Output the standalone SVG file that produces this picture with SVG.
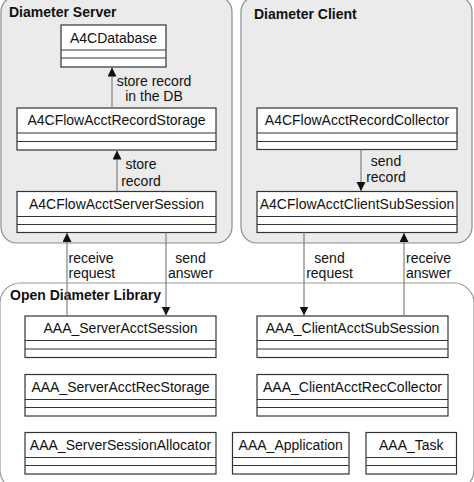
<svg xmlns="http://www.w3.org/2000/svg" width="474" height="482" viewBox="0 0 474 482">
<style>
.panel{fill:#ebebeb;stroke:#8c8c8c;stroke-width:1.2}
.lib{fill:#ffffff;stroke:#9a9a9a;stroke-width:1.2}
.box{fill:#ffffff;stroke:#333;stroke-width:1.2}
.sep{stroke:#333;stroke-width:1.2}
.title{font-family:"Liberation Sans",Arial,sans-serif;font-size:14px;font-weight:bold;fill:#111}
.name{font-family:"Liberation Sans",Arial,sans-serif;font-size:14px;fill:#111;text-anchor:middle}
.lbl{font-family:"Liberation Sans",Arial,sans-serif;font-size:14px;fill:#111}
.mid{text-anchor:middle}
.conn{stroke:#808080;stroke-width:1.2;fill:none}
</style>
<defs>
<marker id="arr" markerUnits="userSpaceOnUse" markerWidth="10" markerHeight="10" refX="9" refY="4.5" orient="auto">
<path d="M0,0 L9,4.5 L0,9 Z" fill="#111"/>
</marker>
</defs>

<g id="panel-server">
<rect class="panel" x="1" y="-4" width="231" height="247" rx="16"/>
<text class="title" x="9" y="17">Diameter Server</text>
</g>
<g id="panel-client">
<rect class="panel" x="241" y="-4" width="231" height="247" rx="16"/>
<text class="title" x="254" y="19">Diameter Client</text>
</g>
<g id="panel-library">
<rect class="lib" x="0" y="283" width="474" height="207" rx="20"/>
<text class="title" x="10" y="300">Open Diameter Library</text>
</g>

<g id="A4CDatabase">
<rect class="box" x="61" y="25" width="105" height="42"/>
<line class="sep" x1="61" y1="50" x2="166" y2="50"/>
<line class="sep" x1="61" y1="58" x2="166" y2="58"/>
<text class="name" x="113.5" y="43">A4CDatabase</text>
</g>
<g id="A4CFlowAcctRecordStorage">
<rect class="box" x="17" y="108" width="199" height="42"/>
<line class="sep" x1="17" y1="133" x2="216" y2="133"/>
<line class="sep" x1="17" y1="141.5" x2="216" y2="141.5"/>
<text class="name" x="116.5" y="125">A4CFlowAcctRecordStorage</text>
</g>
<g id="A4CFlowAcctServerSession">
<rect class="box" x="17" y="191.5" width="199" height="41"/>
<line class="sep" x1="17" y1="216.5" x2="216" y2="216.5"/>
<line class="sep" x1="17" y1="224.5" x2="216" y2="224.5"/>
<text class="name" x="116.5" y="208.5">A4CFlowAcctServerSession</text>
</g>
<g id="A4CFlowAcctRecordCollector">
<rect class="box" x="257" y="108" width="200" height="41.5"/>
<line class="sep" x1="257" y1="133" x2="457" y2="133"/>
<line class="sep" x1="257" y1="141.5" x2="457" y2="141.5"/>
<text class="name" x="357" y="125">A4CFlowAcctRecordCollector</text>
</g>
<g id="A4CFlowAcctClientSubSession">
<rect class="box" x="257" y="191.5" width="200" height="41"/>
<line class="sep" x1="257" y1="216.5" x2="457" y2="216.5"/>
<line class="sep" x1="257" y1="224.5" x2="457" y2="224.5"/>
<text class="name" x="357" y="208.5">A4CFlowAcctClientSubSession</text>
</g>

<g id="AAA_ServerAcctSession">
<rect class="box" x="25" y="316" width="191" height="41.5"/>
<line class="sep" x1="25" y1="340.5" x2="216" y2="340.5"/>
<line class="sep" x1="25" y1="349" x2="216" y2="349"/>
<text class="name" x="120.5" y="333">AAA_ServerAcctSession</text>
</g>
<g id="AAA_ServerAcctRecStorage">
<rect class="box" x="25" y="374.5" width="191" height="41.5"/>
<line class="sep" x1="25" y1="399.5" x2="216" y2="399.5"/>
<line class="sep" x1="25" y1="407.5" x2="216" y2="407.5"/>
<text class="name" x="120.5" y="391.5">AAA_ServerAcctRecStorage</text>
</g>
<g id="AAA_ServerSessionAllocator">
<rect class="box" x="25" y="432.5" width="191" height="41.5"/>
<line class="sep" x1="25" y1="457.5" x2="216" y2="457.5"/>
<line class="sep" x1="25" y1="465.5" x2="216" y2="465.5"/>
<text class="name" x="120.5" y="449.5">AAA_ServerSessionAllocator</text>
</g>
<g id="AAA_ClientAcctSubSession">
<rect class="box" x="257" y="316" width="191" height="41.5"/>
<line class="sep" x1="257" y1="340.5" x2="448" y2="340.5"/>
<line class="sep" x1="257" y1="349" x2="448" y2="349"/>
<text class="name" x="352.5" y="333">AAA_ClientAcctSubSession</text>
</g>
<g id="AAA_ClientAcctRecCollector">
<rect class="box" x="257" y="374.5" width="191" height="41.5"/>
<line class="sep" x1="257" y1="399.5" x2="448" y2="399.5"/>
<line class="sep" x1="257" y1="407.5" x2="448" y2="407.5"/>
<text class="name" x="352.5" y="391.5">AAA_ClientAcctRecCollector</text>
</g>
<g id="AAA_Application">
<rect class="box" x="232.5" y="432.5" width="116.5" height="41.5"/>
<line class="sep" x1="232.5" y1="457.5" x2="349" y2="457.5"/>
<line class="sep" x1="232.5" y1="465.5" x2="349" y2="465.5"/>
<text class="name" x="290.75" y="449.5">AAA_Application</text>
</g>
<g id="AAA_Task">
<rect class="box" x="366" y="432.5" width="90.5" height="41.5"/>
<line class="sep" x1="366" y1="457.5" x2="456.5" y2="457.5"/>
<line class="sep" x1="366" y1="465.5" x2="456.5" y2="465.5"/>
<text class="name" x="411.25" y="449.5">AAA_Task</text>
</g>

<g id="connectors">
<line class="conn" x1="112" y1="108" x2="112" y2="67.5" marker-end="url(#arr)"/>
<line class="conn" x1="117" y1="191.5" x2="117" y2="150.5" marker-end="url(#arr)"/>
<line class="conn" x1="361" y1="149.5" x2="361" y2="191" marker-end="url(#arr)"/>
<line class="conn" x1="67" y1="316" x2="67" y2="233" marker-end="url(#arr)"/>
<line class="conn" x1="166" y1="232.5" x2="166" y2="315.5" marker-end="url(#arr)"/>
<line class="conn" x1="304" y1="232.5" x2="304" y2="315.5" marker-end="url(#arr)"/>
<line class="conn" x1="404" y1="316" x2="404" y2="233" marker-end="url(#arr)"/>
<text class="lbl mid" x="154" y="85.5">store record</text>
<text class="lbl mid" x="154" y="100.5">in the DB</text>
<text class="lbl mid" x="141" y="169">store</text>
<text class="lbl mid" x="141" y="186">record</text>
<text class="lbl mid" x="386" y="165.5">send</text>
<text class="lbl mid" x="386" y="181.5">record</text>
<text class="lbl" x="68.5" y="262.5">receive</text>
<text class="lbl" x="68.5" y="277.5">request</text>
<text class="lbl mid" x="190.5" y="262.5">send</text>
<text class="lbl mid" x="190.5" y="277.5">answer</text>
<text class="lbl mid" x="329.5" y="262.5">send</text>
<text class="lbl mid" x="329.5" y="277.5">request</text>
<text class="lbl" x="406" y="262.5">receive</text>
<text class="lbl" x="406" y="277.5">answer</text>
</g>
</svg>
